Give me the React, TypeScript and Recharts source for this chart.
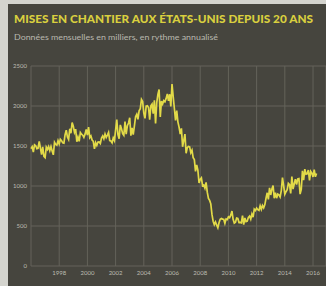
import React from "react";
import { LineChart, Line, XAxis, YAxis, CartesianGrid } from "recharts";

const title = "MISES EN CHANTIER AUX ÉTATS-UNIS DEPUIS 20 ANS";
const subtitle = "Données mensuelles en milliers, en rythme annualisé";

const startYear = 1996;
const yearTicks = [1998, 2000, 2002, 2004, 2006, 2008, 2010, 2012, 2014, 2016];
const valueTicks = [0, 500, 1000, 1500, 2000, 2500];

const y1996 = [1467, 1491, 1424, 1516, 1504, 1467, 1472, 1557, 1475, 1392, 1489, 1370];
const y1997 = [1355, 1486, 1457, 1492, 1442, 1494, 1437, 1390, 1546, 1520, 1510, 1566];
const y1998 = [1525, 1584, 1567, 1540, 1536, 1641, 1698, 1614, 1582, 1715, 1660, 1792];
const y1999 = [1748, 1670, 1710, 1553, 1611, 1559, 1669, 1648, 1635, 1608, 1648, 1708];
const y2000 = [1636, 1737, 1604, 1626, 1575, 1559, 1463, 1541, 1507, 1549, 1551, 1532];
const y2001 = [1600, 1625, 1590, 1649, 1605, 1636, 1670, 1567, 1562, 1540, 1602, 1568];
const y2002 = [1698, 1829, 1642, 1592, 1764, 1717, 1655, 1633, 1804, 1648, 1753, 1788];
const y2003 = [1853, 1629, 1726, 1643, 1751, 1867, 1897, 1833, 1939, 1967, 2083, 2057];
const y2004 = [1911, 1846, 1998, 2003, 1981, 1828, 2002, 2024, 1905, 2072, 1782, 2042];
const y2005 = [2144, 2207, 1864, 2061, 2025, 2068, 2054, 2095, 2151, 2065, 2147, 1994];
const y2006 = [2273, 2119, 1969, 1821, 1942, 1802, 1737, 1650, 1720, 1491, 1570, 1649];
const y2007 = [1409, 1480, 1495, 1490, 1415, 1448, 1354, 1330, 1183, 1264, 1197, 1037];
const y2008 = [1084, 1103, 1005, 1013, 973, 1046, 923, 844, 820, 777, 645, 560];
const y2009 = [517, 550, 513, 478, 540, 585, 594, 586, 585, 534, 588, 581];
const y2010 = [614, 604, 636, 687, 583, 536, 546, 599, 594, 543, 545, 539];
const y2011 = [630, 517, 600, 554, 561, 608, 623, 585, 650, 610, 711, 694];
const y2012 = [723, 704, 695, 753, 708, 757, 728, 768, 847, 915, 833, 976];
const y2013 = [888, 962, 1005, 847, 915, 848, 898, 889, 863, 941, 1105, 1003];
const y2014 = [897, 928, 953, 1034, 1018, 907, 1118, 961, 1025, 1085, 1019, 1088];
const y2015 = [1092, 899, 958, 1189, 1074, 1211, 1147, 1152, 1200, 1069, 1183, 1160];
const y2016 = [1114, 1206, 1115, 1156];

const monthly = [
  ...y1996, ...y1997, ...y1998, ...y1999, ...y2000, ...y2001, ...y2002,
  ...y2003, ...y2004, ...y2005, ...y2006, ...y2007, ...y2008, ...y2009,
  ...y2010, ...y2011, ...y2012, ...y2013, ...y2014, ...y2015, ...y2016,
];

const data = monthly.map((v, i) => ({ t: startYear + i / 12, v }));

export default function App() {
  return (
    <div
      style={{
        position: "fixed",
        left: 0,
        top: 0,
        right: 0,
        bottom: 0,
        background: "#46453e",
        overflow: "hidden",
      }}
    >
      <div
        style={{
          position: "absolute",
          left: 0,
          top: 0,
          width: 8,
          height: 286,
          background: "#d4d4ce",
        }}
      />
      <div
        style={{
          position: "absolute",
          left: 0,
          top: 0,
          width: 326,
          height: 4,
          background: "#d4d4ce",
        }}
      />
      <svg
        width={326}
        height={50}
        style={{ position: "absolute", left: 0, top: 0 }}
      >
        <text
          x={14}
          y={23}
          fill="#d9cf3e"
          fontFamily="Lato, 'Open Sans', sans-serif"
          fontWeight={900}
          fontSize={11.5}
          textLength={299}
          lengthAdjust="spacingAndGlyphs"
        >
          {title}
        </text>
        <text
          x={14}
          y={40}
          fill="#b9b8ae"
          fontFamily="Lato, 'Open Sans', sans-serif"
          fontSize={8}
          textLength={204}
          lengthAdjust="spacingAndGlyphs"
        >
          {subtitle}
        </text>
      </svg>
      <div style={{ position: "absolute", left: 0, top: 0 }}>
        <LineChart
          width={326}
          height={286}
          data={data}
          margin={{ top: 66, right: 0, bottom: 0, left: 0 }}
        >
          <CartesianGrid stroke="#64635a" strokeWidth={1} />
          <XAxis
            type="number"
            dataKey="t"
            domain={[1996, 2016.92]}
            ticks={yearTicks}
            height={20}
            axisLine={false}
            tickLine={false}
            tickSize={2}
            tickMargin={3}
            tick={{ fill: "#bdbcb2", fontSize: 6, fontFamily: "Lato, sans-serif" }}
            interval={0}
          />
          <YAxis
            type="number"
            domain={[0, 2500]}
            ticks={valueTicks}
            width={31}
            axisLine={false}
            tickLine={false}
            tickSize={2}
            tickMargin={2}
            tick={{ fill: "#bdbcb2", fontSize: 6, fontFamily: "Lato, sans-serif" }}
            interval={0}
          />
          <Line
            type="linear"
            dataKey="v"
            stroke="#e2da48"
            strokeWidth={1.7}
            dot={false}
            isAnimationActive={false}
          />
        </LineChart>
      </div>
    </div>
  );
}
